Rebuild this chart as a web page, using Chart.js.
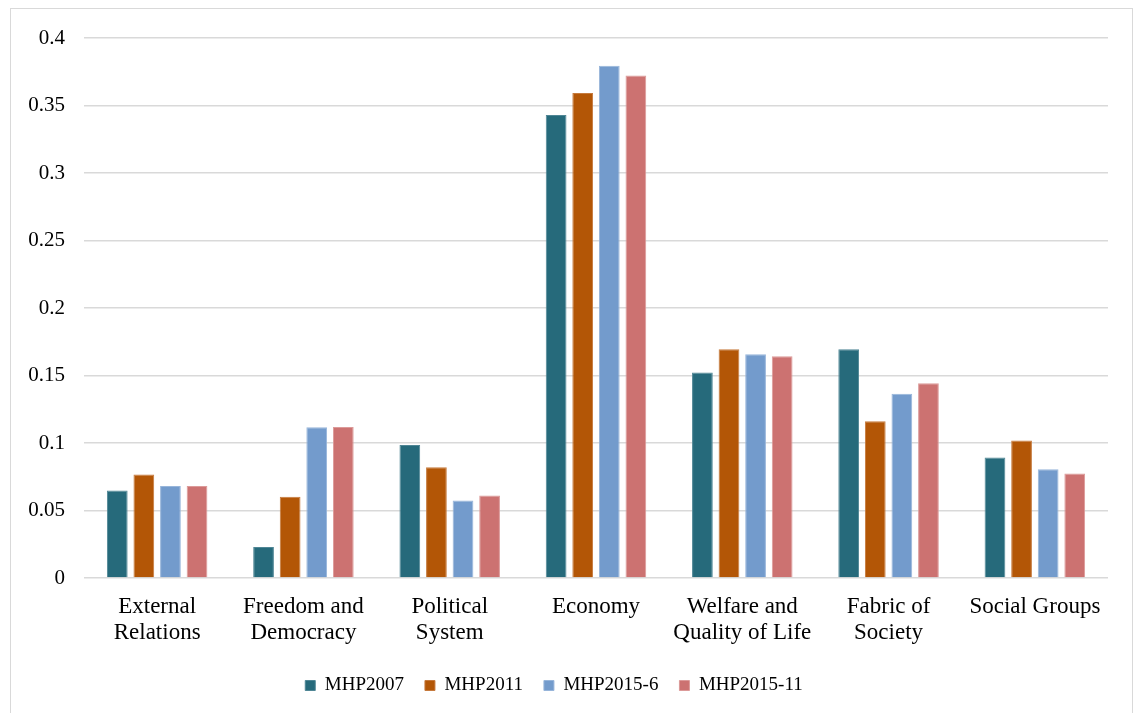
<!DOCTYPE html>
<html>
<head>
<meta charset="utf-8">
<script src="https://cdn.jsdelivr.net/npm/chart.js@4.4.0/dist/chart.umd.min.js"></script>
<style>
  html, body { margin: 0; padding: 0; background: #ffffff; }
  #wrap { position: relative; width: 1136px; height: 713px; overflow: hidden; }
  #frame { position: absolute; left: 10px; top: 8px; width: 1123px; height: 720px; border: 1.5px solid #d9d9d9; box-sizing: border-box; }
  #c { position: absolute; left: 0; top: 0; }
</style>
</head>
<body>
<div id="wrap">
  <div id="frame"></div>
  <canvas id="c" width="1136" height="713"></canvas>
</div>
<script>
// Policy domains (category axis)
const categories = [
  ["External", "Relations"],
  ["Freedom and", "Democracy"],
  ["Political", "System"],
  "Economy",
  ["Welfare and", "Quality of Life"],
  ["Fabric of", "Society"],
  "Social Groups"
];

// Share of programme per domain, one array per manifesto
const seriesNames = ["MHP2007", "MHP2011", "MHP2015-6", "MHP2015-11"];
const values2007    = [0.0649, 0.0229, 0.0985, 0.3429, 0.1522, 0.1695, 0.0892];
const values2011    = [0.0766, 0.0602, 0.0820, 0.3592, 0.1695, 0.1161, 0.1018];
const values2015_6  = [0.0681, 0.1117, 0.0575, 0.3795, 0.1658, 0.1364, 0.0805];
const values2015_11 = [0.0681, 0.1119, 0.0612, 0.3723, 0.1643, 0.1443, 0.0775];

const yTicks = [0, 0.05, 0.1, 0.15, 0.2, 0.25, 0.3, 0.35, 0.4];

const fills   = ["#266a7b", "#b35606", "#739bcc", "#cc7271"];
const borders = ["#4f8695", "#c67a3d", "#97b5da", "#dc9a99"];

const seriesValues = [values2007, values2011, values2015_6, values2015_11];

const datasets = seriesNames.map((name, i) => ({
  label: name,
  data: seriesValues[i],
  backgroundColor: fills[i],
  borderColor: borders[i],
  borderWidth: 1,
  borderSkipped: 'bottom',
  categoryPercentage: 0.727,
  barPercentage: 0.78
}));

const serif = "'Liberation Serif', 'Times New Roman', serif";

new Chart(document.getElementById('c'), {
  type: 'bar',
  data: { labels: categories, datasets },
  options: {
    responsive: false,
    animation: false,
    devicePixelRatio: 1,
    layout: { padding: { left: 0, right: 28, top: 38, bottom: 8 } },
    plugins: {
      tooltip: { enabled: false },
      legend: {
        position: 'bottom',
        labels: {
          font: { family: serif, size: 19 },
          color: '#000000',
          boxWidth: 10,
          boxHeight: 10,
          padding: 21
        }
      }
    },
    scales: {
      x: {
        grid: { display: false, drawTicks: false },
        border: { display: false },
        ticks: {
          font: { family: serif, size: 23, lineHeight: 1.17 },
          color: '#000000',
          padding: 15,
          maxRotation: 0,
          autoSkip: false
        },
        afterFit: (s) => { s.height = 77; }
      },
      y: {
        min: 0,
        max: 0.4,
        afterBuildTicks: (s) => { s.ticks = yTicks.map(v => ({ value: v })); },
        grid: { color: '#d9d9d9', lineWidth: 1.5, drawTicks: false },
        border: { display: false },
        ticks: {
          font: { family: serif, size: 21 },
          color: '#000000',
          padding: 19,
          callback: (v) => String(v)
        },
        afterFit: (s) => { s.width = 84; }
      }
    }
  }
});
</script>
</body>
</html>
